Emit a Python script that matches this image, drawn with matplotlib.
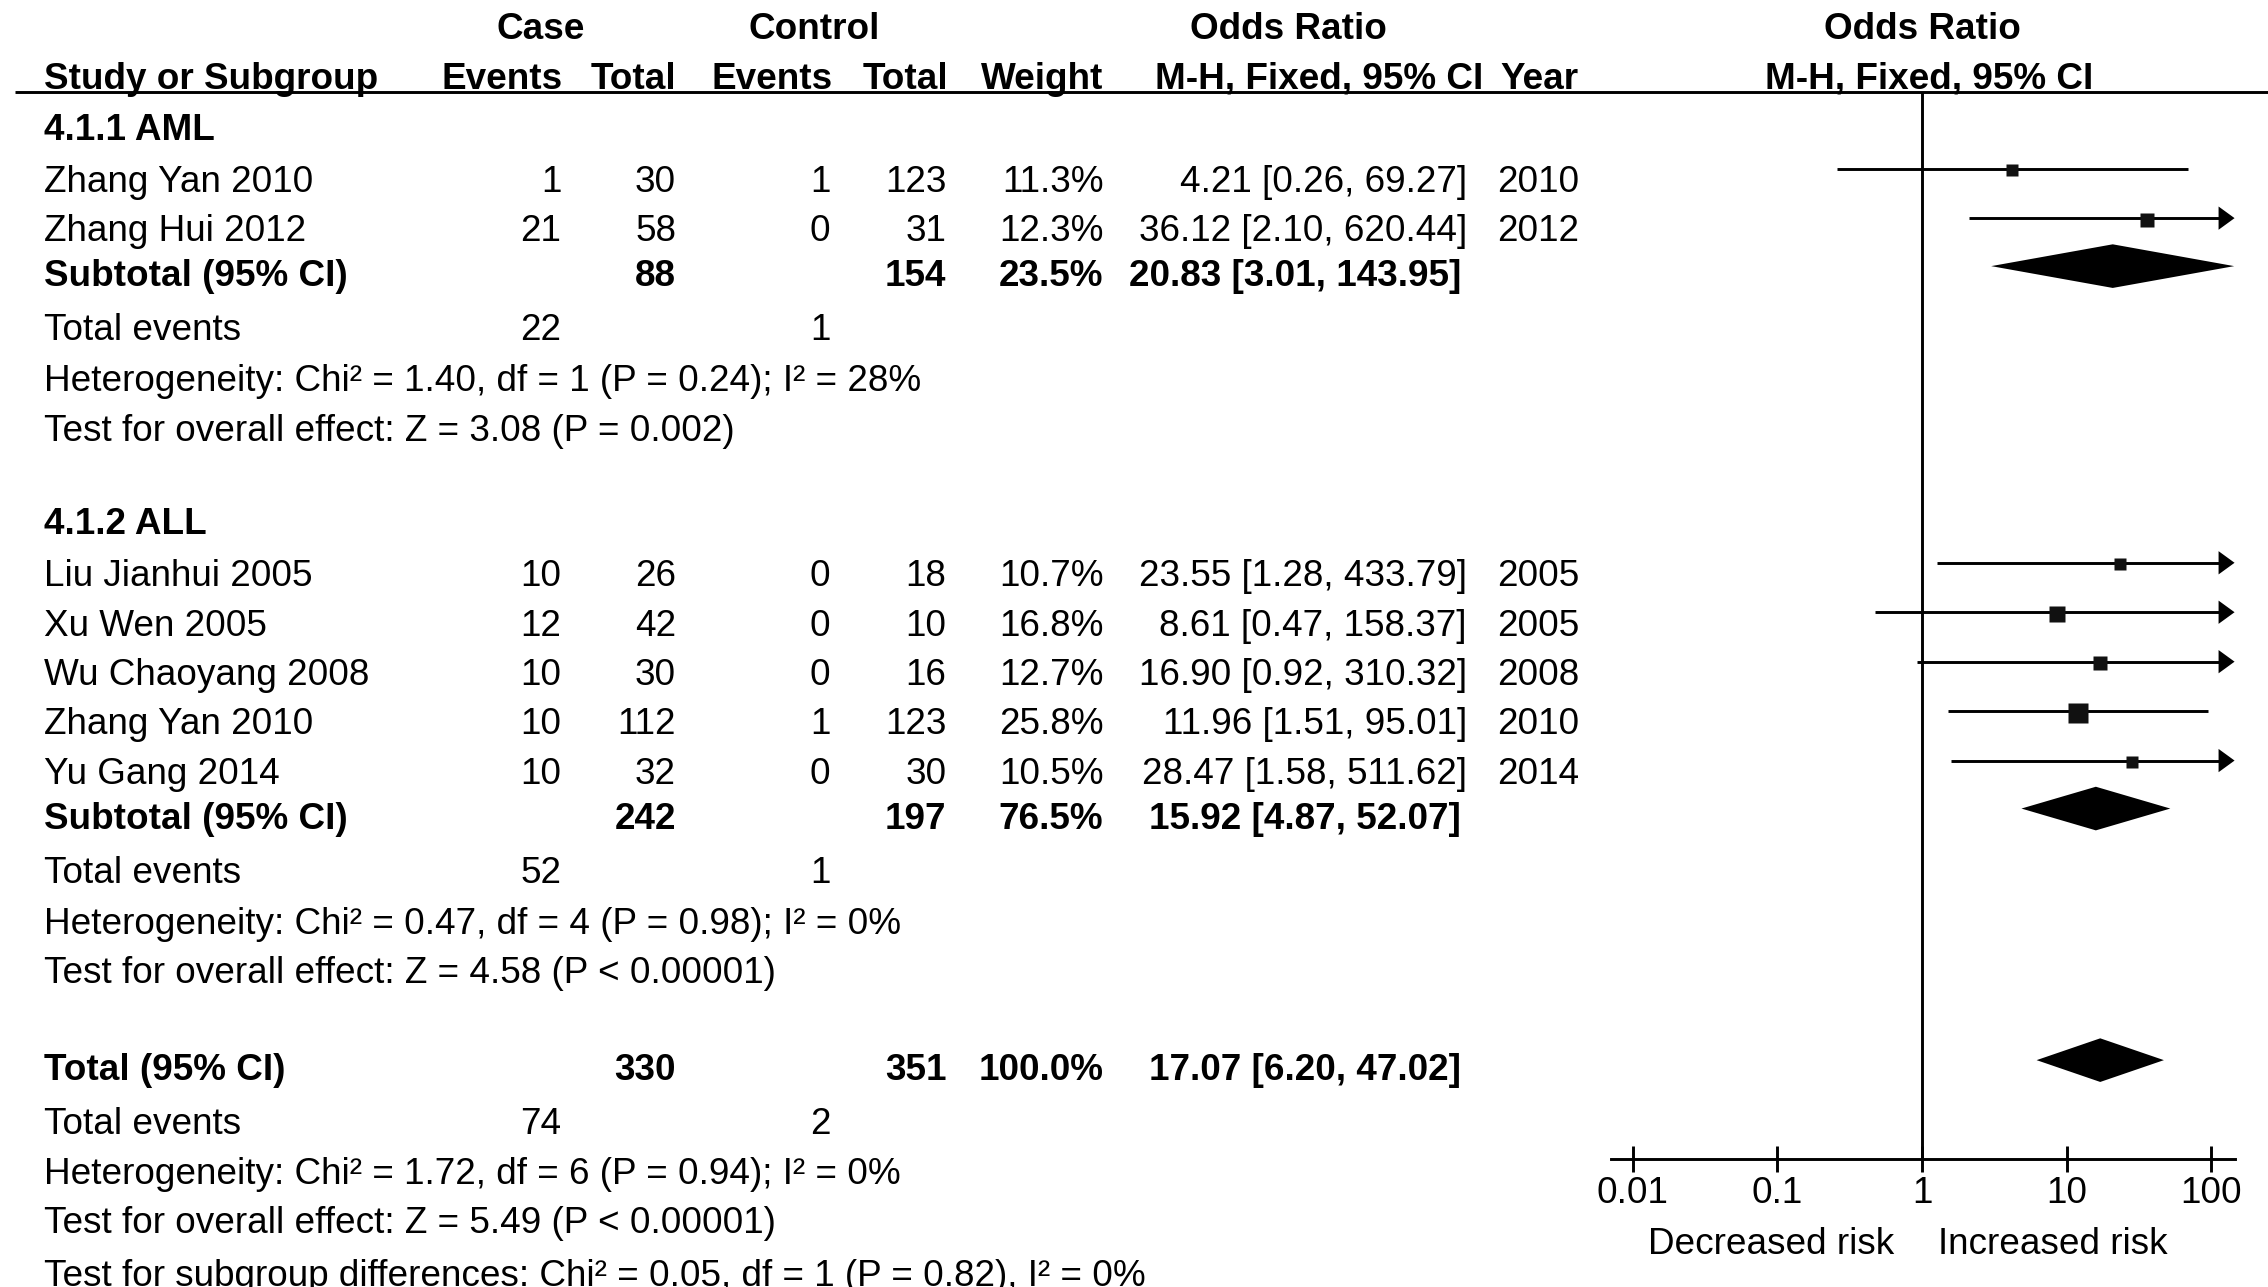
import matplotlib
matplotlib.use("Agg")
import matplotlib.pyplot as plt
import numpy as np

# ---------------- data ----------------
aml_study = ["Zhang Yan 2010", "Zhang Hui 2012"]
aml_case_events = [1, 21]
aml_case_total = [30, 58]
aml_ctrl_events = [1, 0]
aml_ctrl_total = [123, 31]
aml_weight = [11.3, 12.3]
aml_or = [4.21, 36.12]
aml_lo = [0.26, 2.10]
aml_hi = [69.27, 620.44]
aml_year = [2010, 2012]

all_study = ["Liu Jianhui 2005", "Xu Wen 2005", "Wu Chaoyang 2008", "Zhang Yan 2010", "Yu Gang 2014"]
all_case_events = [10, 12, 10, 10, 10]
all_case_total = [26, 42, 30, 112, 32]
all_ctrl_events = [0, 0, 0, 1, 0]
all_ctrl_total = [18, 10, 16, 123, 30]
all_weight = [10.7, 16.8, 12.7, 25.8, 10.5]
all_or = [23.55, 8.61, 16.90, 11.96, 28.47]
all_lo = [1.28, 0.47, 0.92, 1.51, 1.58]
all_hi = [433.79, 158.37, 310.32, 95.01, 511.62]
all_year = [2005, 2005, 2008, 2010, 2014]

group_names = ["4.1.1 AML", "4.1.2 ALL"]
sub_case_total = [88, 242]
sub_ctrl_total = [154, 197]
sub_weight = [23.5, 76.5]
sub_or = [20.83, 15.92]
sub_lo = [3.01, 4.87]
sub_hi = [143.95, 52.07]
sub_case_events = [22, 52]
sub_ctrl_events = [1, 1]
sub_het = ["Heterogeneity: Chi\u00b2 = 1.40, df = 1 (P = 0.24); I\u00b2 = 28%",
           "Heterogeneity: Chi\u00b2 = 0.47, df = 4 (P = 0.98); I\u00b2 = 0%"]
sub_test = ["Test for overall effect: Z = 3.08 (P = 0.002)",
            "Test for overall effect: Z = 4.58 (P < 0.00001)"]

tot_case_total = 330
tot_ctrl_total = 351
tot_weight = 100.0
tot_or = 17.07
tot_lo = 6.20
tot_hi = 47.02
tot_case_events = 74
tot_ctrl_events = 2
tot_het = "Heterogeneity: Chi\u00b2 = 1.72, df = 6 (P = 0.94); I\u00b2 = 0%"
tot_test = "Test for overall effect: Z = 5.49 (P < 0.00001)"
sub_diff = "Test for subgroup differences: Chi\u00b2 = 0.05, df = 1 (P = 0.82), I\u00b2 = 0%"

axis_ticks = [0.01, 0.1, 1, 10, 100]
axis_ticklabels = ["0.01", "0.1", "1", "10", "100"]

# ---------------- layout (display units) ----------------
W, H = 1560, 885
S = 2268 / W            # display unit -> pixel
PT = S * 0.72           # display unit -> points at dpi 100
FS = 26.6
FONT = "Liberation Sans"

fig = plt.figure(figsize=(22.68, 12.87), dpi=100)
ax = fig.add_axes([0, 0, 1, 1])
ax.set_xlim(0, W)
ax.set_ylim(H, 0)
ax.axis("off")

X_STUDY = 30
X_CEV, X_CTOT, X_KEV, X_KTOT, X_WT, X_OR, X_YR = 386, 465, 571, 651, 759, 1009, 1086
BASE = 9  # baseline offset from visual centre

def txt(x, y, s, ha="left", bold=False):
    ax.text(x, y + BASE, s, ha=ha, va="baseline", fontsize=FS, family=FONT,
            fontweight="bold" if bold else "normal", color="black")

def fmt_or(o, l, h):
    return f"{o:.2f} [{l:.2f}, {h:.2f}]"

# headers
txt(372, 18, "Case", "center", True)
txt(560, 18, "Control", "center", True)
txt(886, 18, "Odds Ratio", "center", True)
txt(1322, 18, "Odds Ratio", "center", True)
txt(X_STUDY, 52, "Study or Subgroup", bold=True)
txt(387, 52, "Events", "right", True)
txt(465, 52, "Total", "right", True)
txt(573, 52, "Events", "right", True)
txt(652, 52, "Total", "right", True)
txt(759, 52, "Weight", "right", True)
txt(1020, 52, "M-H, Fixed, 95% CI", "right", True)
txt(1032, 52, "Year", "left", True)
txt(1327, 52, "M-H, Fixed, 95% CI", "center", True)
ax.plot([10, W], [63, 63], color="black", lw=2 * PT, solid_capstyle="butt")

# forest axes
LOGSCALE = 99.5
X1 = 1322
ax2 = fig.add_axes([1108 / W, 0, (1537 - 1108) / W, 1])
ax2.set_xscale("log")
xmin = 10 ** ((1108 - X1) / LOGSCALE)
xmax = 10 ** ((1537 - X1) / LOGSCALE)
ax2.set_xlim(xmin, xmax)
ax2.set_ylim(H, 0)
ax2.patch.set_alpha(0)
for sp in ["top", "left", "right"]:
    ax2.spines[sp].set_visible(False)
ax2.spines["bottom"].set_position(("data", 797))
ax2.spines["bottom"].set_linewidth(2 * PT)
ax2.set_yticks([])
ax2.set_xticks(axis_ticks)
ax2.set_xticklabels(axis_ticklabels)
ax2.minorticks_off()
ax2.tick_params(axis="x", direction="inout", length=18 * PT, width=2 * PT,
                labelsize=FS, pad=3)
for lab in ax2.get_xticklabels():
    lab.set_family(FONT)
ax2.plot([1, 1], [63, 797], color="black", lw=2 * PT, solid_capstyle="butt")

ARROW_BACK = 10 ** (11 / LOGSCALE)

def study_mark(y, o, l, h, w):
    yy = y - 7
    right = min(h, xmax)
    if h > xmax:
        base = xmax / ARROW_BACK
        ax2.plot([l, base], [yy, yy], color="black", lw=2 * PT, solid_capstyle="butt")
        ax2.fill([base, xmax, base], [yy - 8, yy, yy + 8], color="black", lw=0)
    else:
        ax2.plot([l, right], [yy, yy], color="black", lw=2 * PT, solid_capstyle="butt")
    side = 2.6 * np.sqrt(w)
    ax2.plot([o], [yy + 1], marker="s", ms=side * PT, color="#111111", mec="none")

def diamond(y, o, l, h):
    yy = y - 5
    ax2.fill([l, o, h, o], [yy, yy - 15, yy, yy + 15], color="black", lw=0)

groups = [
    (aml_study, aml_case_events, aml_case_total, aml_ctrl_events, aml_ctrl_total,
     aml_weight, aml_or, aml_lo, aml_hi, aml_year),
    (all_study, all_case_events, all_case_total, all_ctrl_events, all_ctrl_total,
     all_weight, all_or, all_lo, all_hi, all_year),
]
group_top = [87, 358]
ROW = 34

for g, data in enumerate(groups):
    st, cev, ctot, kev, ktot, wt, o, l, h, yr = data
    y = group_top[g]
    txt(X_STUDY, y, group_names[g], bold=True)
    y0 = y + 36
    for i in range(len(st)):
        yi = y0 + i * ROW
        txt(X_STUDY, yi, st[i])
        txt(X_CEV, yi, str(cev[i]), "right")
        txt(X_CTOT, yi, str(ctot[i]), "right")
        txt(X_KEV, yi, str(kev[i]), "right")
        txt(X_KTOT, yi, str(ktot[i]), "right")
        txt(X_WT, yi, f"{wt[i]:.1f}%", "right")
        txt(X_OR, yi, fmt_or(o[i], l[i], h[i]), "right")
        txt(X_YR, yi, str(yr[i]), "right")
        study_mark(yi, o[i], l[i], h[i], wt[i])
    ys = y0 + (len(st) - 1) * ROW + 31
    txt(X_STUDY, ys, "Subtotal (95% CI)", bold=True)
    txt(X_CTOT, ys, str(sub_case_total[g]), "right", True)
    txt(X_KTOT, ys, str(sub_ctrl_total[g]), "right", True)
    txt(X_WT, ys, f"{sub_weight[g]:.1f}%", "right", True)
    txt(X_OR - 4, ys, fmt_or(sub_or[g], sub_lo[g], sub_hi[g]), "right", True)
    diamond(ys, sub_or[g], sub_lo[g], sub_hi[g])
    ye = ys + 37
    txt(X_STUDY, ye, "Total events")
    txt(X_CEV, ye, str(sub_case_events[g]), "right")
    txt(X_KEV, ye, str(sub_ctrl_events[g]), "right")
    txt(X_STUDY, ye + 35, sub_het[g])
    txt(X_STUDY, ye + 69, sub_test[g])

yt = 734
txt(X_STUDY, yt, "Total (95% CI)", bold=True)
txt(X_CTOT, yt, str(tot_case_total), "right", True)
txt(X_KTOT, yt, str(tot_ctrl_total), "right", True)
txt(X_WT, yt, f"{tot_weight:.1f}%", "right", True)
txt(X_OR - 4, yt, fmt_or(tot_or, tot_lo, tot_hi), "right", True)
diamond(yt, tot_or, tot_lo, tot_hi)
txt(X_STUDY, 771, "Total events")
txt(X_CEV, 771, str(tot_case_events), "right")
txt(X_KEV, 771, str(tot_ctrl_events), "right")
txt(X_STUDY, 805, tot_het)
txt(X_STUDY, 839, tot_test)
txt(X_STUDY, 875, sub_diff)

txt(1218, 853, "Decreased risk", "center")
txt(1412, 853, "Increased risk", "center")

fig.savefig("out.png", dpi=100)
